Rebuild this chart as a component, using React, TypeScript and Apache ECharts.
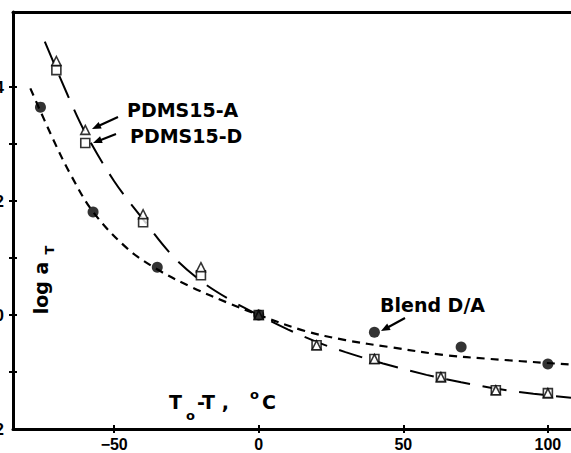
import React, { useEffect, useRef } from "react";
import * as echarts from "echarts";

// Measured data (x = To - T in °C, y = log aT)
const pdmsX = [-70, -60, -40, -20, 0, 20, 40, 63, 82, 100];
const pdmsA = [4.46, 3.25, 1.77, 0.84, 0.0, -0.53, -0.77, -1.09, -1.32, -1.37];
const pdmsD = [4.3, 3.02, 1.63, 0.7, 0.0, -0.53, -0.77, -1.09, -1.32, -1.37];

const blendX = [-75.5, -57.3, -35.1, 0, 40, 70, 100];
const blendY = [3.65, 1.81, 0.84, 0.0, -0.3, -0.56, -0.86];

// Fit curves
const pdmsCurveX = [-74, -66, -60, -50, -40, -30, -20, -10, 0, 10, 20, 30, 43, 58, 70, 82, 95, 108];
const pdmsCurveY = [4.8, 3.85, 3.2, 2.35, 1.68, 1.05, 0.6, 0.27, 0.0, -0.25, -0.47, -0.65, -0.85, -1.05, -1.18, -1.29, -1.38, -1.45];

const blendCurveX = [-79, -70.8, -65, -57.3, -45.5, -35, -23.7, -10, 0, 16, 30, 45, 64, 80, 108];
const blendCurveY = [3.98, 3.05, 2.46, 1.81, 1.17, 0.8, 0.5, 0.2, 0.0, -0.28, -0.44, -0.56, -0.7, -0.77, -0.87];

const xTickValues = [-50, 0, 50, 100];
const yTickValues = [-1, 0, 1, 2, 3, 4];
const yLabelValues = [-2, 0, 2, 4];

const X_MIN = -85;
const X_MAX = 108;
const Y_MIN = -2;
const Y_MAX = 5.32;

const FONT = "DejaVu Sans";

function zip(xs: number[], ys: number[]) {
  return xs.map((x, i) => [x, ys[i]]);
}

function arrow(x1: number, y1: number, x2: number, y2: number) {
  const dx = x2 - x1;
  const dy = y2 - y1;
  const len = Math.sqrt(dx * dx + dy * dy);
  const ux = dx / len;
  const uy = dy / len;
  const hl = 9;
  const hw = 3.6;
  const bx = x2 - hl * ux;
  const by = y2 - hl * uy;
  const nx = -uy;
  const ny = ux;
  return [
    {
      type: "line",
      shape: { x1, y1, x2: bx + ux * 2, y2: by + uy * 2 },
      style: { stroke: "#000", lineWidth: 2.2 },
    },
    {
      type: "polygon",
      shape: {
        points: [
          [x2, y2],
          [bx + hw * nx, by + hw * ny],
          [bx - hw * nx, by - hw * ny],
        ],
      },
      style: { fill: "#000" },
    },
  ];
}

function txt(x: number, y: number, text: string, size: number) {
  return {
    type: "text",
    x,
    y,
    style: {
      text,
      fontFamily: FONT,
      fontWeight: "bold",
      fontSize: size,
      fill: "#000",
      align: "left",
      verticalAlign: "middle",
      textAlign: "left",
      textVerticalAlign: "middle",
    },
  };
}

function rotText(x: number, y: number, text: string, size: number) {
  return {
    type: "text",
    x,
    y,
    rotation: Math.PI / 2,
    style: {
      text,
      fontFamily: FONT,
      fontWeight: "bold",
      fontSize: size,
      fill: "#000",
      align: "center",
      verticalAlign: "middle",
      textAlign: "center",
      textVerticalAlign: "middle",
    },
  };
}

export default function App() {
  const ref = useRef<HTMLDivElement>(null);
  useEffect(() => {
    if (!ref.current) return;
    const chart = echarts.init(ref.current, undefined, { renderer: "svg" });
    const axisLineStyle = { color: "#000", width: 3 };
    const tickStyle = { color: "#000", width: 2 };
    const fmt = (v: number) => (v < 0 ? "\u2212" + Math.abs(v) : String(v));
    const option: any = {
      animation: false,
      backgroundColor: "#fff",
      grid: {
        left: 13,
        right: 0,
        top: 12,
        bottom: 24,
        containLabel: false,
        outerBoundsMode: "none",
      },
      xAxis: [
        {
          type: "value",
          min: X_MIN,
          max: X_MAX,
          position: "bottom",
          splitLine: { show: false },
          axisLine: { show: true, onZero: false, lineStyle: axisLineStyle },
          axisTick: { show: true, inside: false, length: 4, lineStyle: tickStyle, customValues: xTickValues },
          axisLabel: {
            show: true,
            margin: 7,
            color: "#000",
            fontFamily: "Liberation Sans",
            fontWeight: "bold",
            fontSize: 16,
            customValues: xTickValues,
            formatter: fmt,
          },
        },
        {
          type: "value",
          min: X_MIN,
          max: X_MAX,
          position: "bottom",
          splitLine: { show: false },
          axisLine: { show: false, onZero: false },
          axisTick: { show: true, inside: true, length: 4, lineStyle: tickStyle, customValues: xTickValues },
          axisLabel: { show: false },
        },
        {
          type: "value",
          min: X_MIN,
          max: X_MAX,
          position: "top",
          splitLine: { show: false },
          axisLine: { show: true, onZero: false, lineStyle: axisLineStyle },
          axisTick: { show: false },
          axisLabel: { show: false },
        },
      ],
      yAxis: [
        {
          type: "value",
          min: Y_MIN,
          max: Y_MAX,
          interval: 1,
          position: "left",
          splitLine: { show: false },
          axisLine: { show: true, onZero: false, lineStyle: axisLineStyle },
          axisTick: { show: true, inside: false, length: 4, lineStyle: tickStyle, customValues: yTickValues },
          axisLabel: {
            show: true,
            margin: 9,
            color: "#000",
            fontFamily: "Liberation Sans",
            fontWeight: "bold",
            fontSize: 17,
            customValues: yLabelValues,
            formatter: fmt,
          },
        },
        {
          type: "value",
          min: Y_MIN,
          max: Y_MAX,
          interval: 1,
          position: "left",
          splitLine: { show: false },
          axisLine: { show: false, onZero: false },
          axisTick: { show: true, inside: true, length: 4, lineStyle: tickStyle, customValues: yTickValues },
          axisLabel: { show: false },
        },
      ],
      series: [
        {
          name: "Blend fit",
          type: "line",
          data: zip(blendCurveX, blendCurveY),
          smooth: 0.35,
          showSymbol: false,
          symbol: "none",
          lineStyle: { color: "#000", width: 2.2, type: [8, 6] },
          z: 2,
        },
        {
          name: "PDMS fit",
          type: "line",
          data: zip(pdmsCurveX, pdmsCurveY),
          smooth: 0.35,
          showSymbol: false,
          symbol: "none",
          lineStyle: { color: "#000", width: 2, type: [24, 13] },
          z: 2,
        },
        {
          name: "PDMS15-D",
          type: "scatter",
          data: zip(pdmsX, pdmsD),
          symbol: "rect",
          symbolSize: [9, 9],
          itemStyle: { color: "#fff", borderColor: "#000", borderWidth: 1.6 },
          z: 3,
        },
        {
          name: "PDMS15-A",
          type: "scatter",
          data: zip(pdmsX, pdmsA),
          symbol: "triangle",
          symbolSize: [9, 9],
          itemStyle: { color: "#fff", borderColor: "#000", borderWidth: 1.6 },
          z: 4,
        },
        {
          name: "Blend D/A",
          type: "scatter",
          data: zip(blendX, blendY),
          symbol: "circle",
          symbolSize: 11,
          itemStyle: { color: "#000" },
          z: 5,
        },
      ],
      graphic: {
        elements: [
          txt(127, 110, "PDMS15-A", 19),
          txt(130, 136, "PDMS15-D", 19),
          txt(380, 305, "Blend D/A", 19),
          ...arrow(118, 117, 92, 129),
          ...arrow(116, 134, 93, 143),
          ...arrow(405, 318, 381, 331),
          txt(169, 402, "T", 19),
          txt(186, 415, "o", 13),
          txt(197, 402, "-T ,", 19),
          txt(250, 394, "o", 13),
          txt(262, 402, "C", 19),
          rotText(41, 288, "log a", 19),
          rotText(49, 250, "T", 13),
        ],
      },
    };
    chart.setOption(option);
    return () => chart.dispose();
  }, []);
  return <div ref={ref} style={{ width: 571, height: 453, position: "absolute", left: 0, top: 0 }} />;
}
